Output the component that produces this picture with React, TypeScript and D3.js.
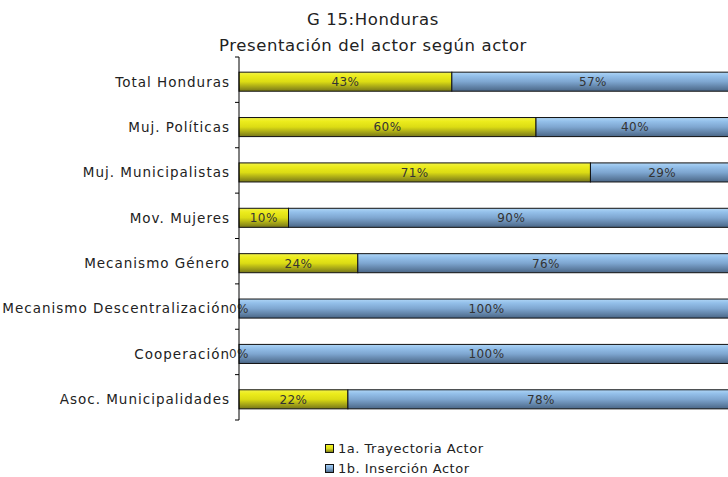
import React from 'react';
import * as d3 from 'd3';

const W = 728;
const H = 477;
const MARGIN = { top: 57, right: -6, bottom: 57, left: 239 };

const categories = [
  'Total Honduras',
  'Muj. Políticas',
  'Muj. Municipalistas',
  'Mov. Mujeres',
  'Mecanismo Género',
  'Mecanismo Descentralización',
  'Cooperación',
  'Asoc. Municipalidades',
];
const trayectoria = [43, 60, 71, 10, 24, 0, 0, 22];
const insercion = [57, 40, 29, 90, 76, 100, 100, 78];
const seriesNames = ['1a. Trayectoria Actor', '1b. Inserción Actor'];

const FONT = '"DejaVu Sans", Verdana, sans-serif';

export default function App() {
  const innerW = W - MARGIN.left - MARGIN.right;
  const innerH = H - MARGIN.top - MARGIN.bottom;

  const x = d3.scaleLinear().domain([0, 100]).range([0, innerW]);
  const y = d3.scaleBand().domain(categories).range([0, innerH]).paddingInner(0.58).paddingOuter(0.29);

  const stacked = d3.stack<any>().keys(['a', 'b'])(
    categories.map((c, i) => ({ cat: c, a: trayectoria[i], b: insercion[i] }))
  );
  const fills = ['url(#gradYellow)', 'url(#gradBlue)'];
  const step = innerH / categories.length;
  const tickYs = d3.range(categories.length + 1).map(i => i * step);

  return (
    <div style={{ position: 'absolute', left: 0, top: 0 }}>
      <svg width={W} height={H} style={{ display: 'block', fontFamily: FONT }}>
        <defs>
          <linearGradient id="gradYellow" x1="0" y1="0" x2="0" y2="1">
            <stop offset="0" stopColor="#f2f24a" />
            <stop offset="0.2" stopColor="#ecec1c" />
            <stop offset="0.5" stopColor="#dcdc14" />
            <stop offset="1" stopColor="#76761a" />
          </linearGradient>
          <linearGradient id="gradBlue" x1="0" y1="0" x2="0" y2="1">
            <stop offset="0" stopColor="#b0d6f6" />
            <stop offset="0.2" stopColor="#94c0ea" />
            <stop offset="0.5" stopColor="#7ea6d0" />
            <stop offset="1" stopColor="#4a6686" />
          </linearGradient>
        </defs>
        <rect width={W} height={H} fill="#fff" />

        <text x={373} y={25} textAnchor="middle" fontSize={16.5} letterSpacing={0.6} fill="#222">G 15:Honduras</text>
        <text x={373} y={51} textAnchor="middle" fontSize={16.5} letterSpacing={0.6} fill="#222">Presentación del actor según actor</text>

        <g transform={`translate(${MARGIN.left},${MARGIN.top})`}>
          {stacked.map((s, si) => (
            <g key={si}>
              {s.map((d, i) => (
                <rect
                  key={i}
                  x={x(d[0])}
                  y={y(categories[i])! + 2}
                  width={x(d[1]) - x(d[0])}
                  height={y.bandwidth()}
                  fill={fills[si]}
                  stroke="#111"
                  strokeWidth={1}
                />
              ))}
            </g>
          ))}
          {stacked.map((s, si) => (
            <g key={'l' + si}>
              {s.map((d, i) => (
                <text
                  key={i}
                  x={x((d[0] + d[1]) / 2)}
                  y={y(categories[i])! + 2 + y.bandwidth() / 2}
                  dy="0.36em"
                  textAnchor="middle"
                  fontSize={12}
                  letterSpacing={0.4}
                  fill="#333"
                >
                  {`${d[1] - d[0]}%`}
                </text>
              ))}
            </g>
          ))}

          <line x1={0} x2={0} y1={0} y2={innerH} stroke="#000" />
          {tickYs.map((t, i) => (
            <line key={i} x1={-4} x2={0} y1={t} y2={t} stroke="#000" />
          ))}
          {categories.map(c => (
            <text
              key={c}
              x={-9}
              y={y(c)! + 2 + y.bandwidth() / 2}
              dy="0.36em"
              textAnchor="end"
              fontSize={13.5}
              letterSpacing={1}
              fill="#222"
            >
              {c}
            </text>
          ))}
        </g>

        <g transform="translate(325,444)">
          {seriesNames.map((n, i) => (
            <g key={n} transform={`translate(0,${i * 20})`}>
              <rect x={0.5} y={0.5} width={8} height={8} fill={fills[i]} stroke="#111" />
              <text x={13} y={4.5} dy="0.36em" fontSize={13} letterSpacing={0.5} fill="#222">{n}</text>
            </g>
          ))}
        </g>
      </svg>
    </div>
  );
}
